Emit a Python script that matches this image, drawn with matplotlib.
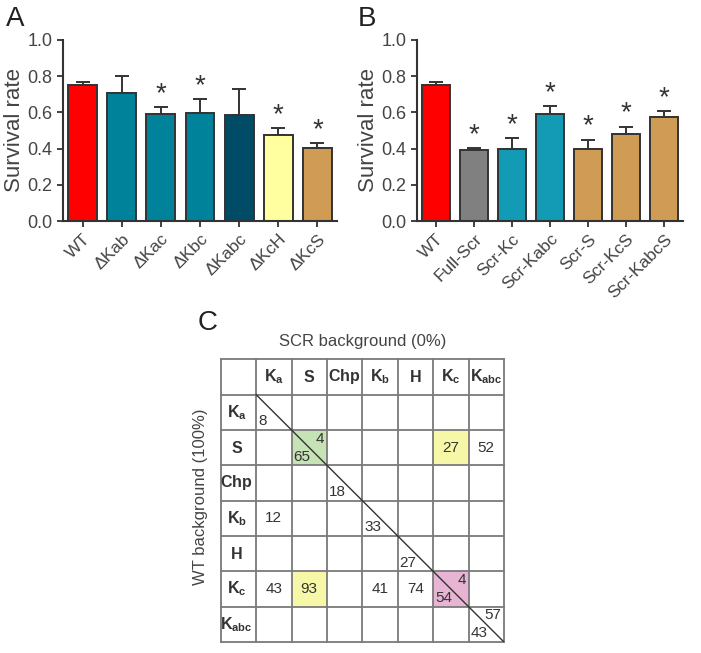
import matplotlib
matplotlib.use("Agg")
import matplotlib.pyplot as plt
from matplotlib.patches import Rectangle

plt.rcParams["font.family"] = ["Liberation Sans", "DejaVu Sans"]
plt.rcParams["mathtext.fontset"] = "custom"
plt.rcParams["mathtext.rm"] = "Liberation Sans"
plt.rcParams["mathtext.bf"] = "Liberation Sans:bold"

# Panel A data
a_labels = ["WT", "ΔKab", "ΔKac", "ΔKbc", "ΔKabc", "ΔKcH", "ΔKcS"]
a_values = [0.75, 0.705, 0.59, 0.597, 0.587, 0.477, 0.403]
a_errors = [0.018, 0.095, 0.04, 0.075, 0.145, 0.038, 0.028]
a_star = [False, False, True, True, False, True, True]
a_colors = ["#FF0000", "#00839A", "#00839A", "#00839A", "#004C66", "#FFFF9F", "#CF9B55"]

# Panel B data
b_labels = ["WT", "Full-Scr", "Scr-Kc", "Scr-Kabc", "Scr-S", "Scr-KcS", "Scr-KabcS"]
b_values = [0.75, 0.393, 0.40, 0.592, 0.40, 0.483, 0.572]
b_errors = [0.018, 0.008, 0.06, 0.043, 0.05, 0.038, 0.034]
b_star = [False, True, True, True, True, True, True]
b_colors = ["#FF0000", "#808080", "#139BB5", "#139BB5", "#CF9B55", "#CF9B55", "#CF9B55"]

# Panel C data
c_headers = [r"$\mathbf{K_a}$", r"$\mathbf{S}$", r"$\mathbf{Chp}$", r"$\mathbf{K_b}$",
             r"$\mathbf{H}$", r"$\mathbf{K_c}$", r"$\mathbf{K_{abc}}$"]
# (row, col, text, position)  position: c=center, ll=lower-left, ur=upper-right
c_cells = [
    (0, 0, "8", "ll"),
    (1, 1, "4", "ur"), (1, 1, "65", "ll"), (1, 5, "27", "c"), (1, 6, "52", "c"),
    (2, 2, "18", "ll"),
    (3, 0, "12", "c"), (3, 3, "33", "ll"),
    (4, 4, "27", "ll"),
    (5, 0, "43", "c"), (5, 1, "93", "c"), (5, 3, "41", "c"), (5, 4, "74", "c"),
    (5, 5, "4", "ur"), (5, 5, "54", "ll"),
    (6, 6, "57", "ur"), (6, 6, "43", "ll"),
]
c_fills = [(1, 1, "#C6E3B5"), (1, 5, "#F7F7A8"), (5, 1, "#F7F7A8"), (5, 5, "#E8B4D4")]

W, H = 701, 653
fig = plt.figure(figsize=(W / 100, H / 100), dpi=100)
ink = "#333333"


def bar_panel(rect, labels, values, errors, stars, colors, letter, lx):
    ax = fig.add_axes(rect)
    x = range(len(labels))
    ax.bar(x, values, width=0.74, color=colors, edgecolor=ink, linewidth=1.4, zorder=2)
    ax.errorbar(x, values, yerr=[[0] * len(errors), errors], fmt="none",
                ecolor=ink, elinewidth=1.4, capsize=5, capthick=1.4, zorder=1)
    for i, s in enumerate(stars):
        if s:
            ax.text(i, values[i] + errors[i], "*", ha="center", va="bottom",
                    fontsize=20, color=ink)
    ax.set_xlim(-0.5, 6.5)
    ax.set_ylim(0, 1.0)
    ax.set_yticks([0, 0.2, 0.4, 0.6, 0.8, 1.0])
    ax.set_yticklabels(["0.0", "0.2", "0.4", "0.6", "0.8", "1.0"])
    ax.set_xticks(list(x))
    ax.set_xticklabels(labels, rotation=45, ha="right", rotation_mode="anchor")
    for sp in ["top", "right"]:
        ax.spines[sp].set_visible(False)
    for sp in ["left", "bottom"]:
        ax.spines[sp].set_linewidth(1.5)
        ax.spines[sp].set_color(ink)
    ax.tick_params(axis="y", labelsize=13)
    ax.tick_params(axis="x", labelsize=12.5)
    ax.tick_params(axis="both", colors=ink, width=1.3, length=4, labelcolor="#444444")
    ax.set_ylabel("Survival rate", fontsize=16, color="#444444", labelpad=2)
    fig.text(lx / W, 1 - 19 / H, letter, fontsize=20, ha="left", va="center", color="#222222")
    return ax


bar_panel([63 / W, 1 - 221 / H, 274 / W, 181 / H], a_labels, a_values, a_errors,
          a_star, a_colors, "A", 6)
bar_panel([417 / W, 1 - 221 / H, 266 / W, 181 / H], b_labels, b_values, b_errors,
          b_star, b_colors, "B", 358)

# Panel C table
tx0, ty0, tx1, ty1 = 220.7, 359.3, 504, 642
axc = fig.add_axes([tx0 / W, 1 - ty1 / H, (tx1 - tx0) / W, (ty1 - ty0) / H])
axc.set_xlim(0, 8)
axc.set_ylim(8, 0)
axc.axis("off")
grid = "#7a7a7a"
for r, c, col in c_fills:
    axc.add_patch(Rectangle((c + 1, r + 1), 1, 1, facecolor=col, edgecolor="none", zorder=0))
for k in range(9):
    axc.plot([k, k], [0, 8], color=grid, lw=1.3, clip_on=False, zorder=1)
    axc.plot([0, 8], [k, k], color=grid, lw=1.3, clip_on=False, zorder=1)
axc.plot([1, 8], [1, 8], color="#333333", lw=1.0, zorder=2)
for i, h in enumerate(c_headers):
    axc.text(i + 1.5, 0.5, h, ha="center", va="center", fontsize=11.5, color="#333333")
    axc.text(0.45, i + 1.5, h, ha="center", va="center", fontsize=11.5, color="#333333")
for r, c, t, pos in c_cells:
    if pos == "c":
        axc.text(c + 1.5, r + 1.5, t, ha="center", va="center", fontsize=11, color="#333333")
    elif pos == "ll":
        axc.text(c + 1.05, r + 1.95, t, ha="left", va="bottom", fontsize=11, color="#333333")
    else:
        axc.text(c + 1.93, r + 1.05, t, ha="right", va="top", fontsize=11, color="#333333")

fig.text(363 / W, 1 - 342 / H, "SCR background (0%)", ha="center", va="center",
         fontsize=12, color="#444444")
fig.text(200 / W, 1 - 497 / H, "WT background (100%)", ha="center", va="center",
         rotation=90, fontsize=12, color="#444444")
fig.text(198 / W, 1 - 323 / H, "C", fontsize=20, ha="left", va="center", color="#222222")

fig.savefig("out.png", dpi=100)
